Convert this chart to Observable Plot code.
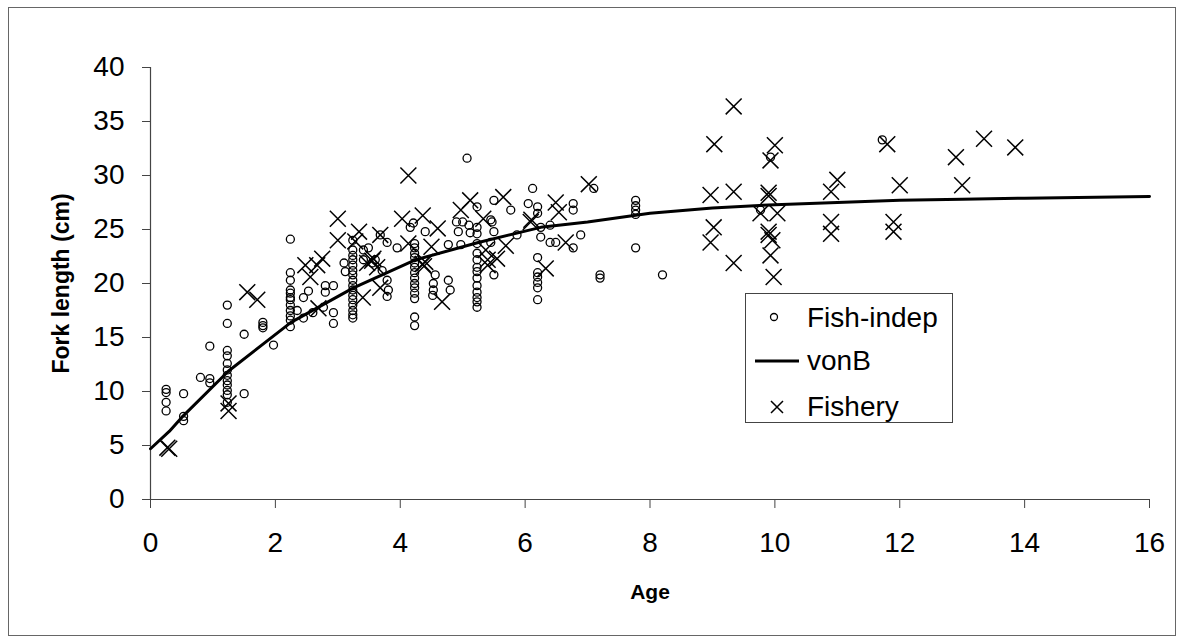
<!DOCTYPE html>
<html>
<head>
<meta charset="utf-8">
<script src="https://cdn.jsdelivr.net/npm/d3@7"></script>
<script src="https://cdn.jsdelivr.net/npm/@observablehq/plot@0.6"></script>
<style>
  html, body { margin: 0; padding: 0; background: #fff; }
  #wrap { position: relative; width: 1184px; height: 641px; font-family: "Liberation Sans", Arial, sans-serif; }
  #border { position: absolute; left: 8px; top: 7px; width: 1166px; height: 627px; border: 1px solid #666; }
  #legend { position: absolute; left: 745px; top: 293px; }
</style>
</head>
<body>
<div id="wrap"><div id="border"></div><div id="chart"></div><div id="legend"></div></div>
<script>
// ---- data ----
const indepAge = [
  0.25,0.25,0.25,0.25,
  0.53,0.53,0.53,
  0.8,
  0.95,0.95,0.95,
  1.23,1.23,1.23,1.23,1.23,1.23,1.23,1.23,1.23,1.23,1.23,1.23,
  1.5,1.5,
  1.8,1.8,1.8,
  1.97,
  2.24,2.24,2.24,2.24,2.24,2.24,2.24,2.24,2.24,2.24,2.24,2.24,
  2.35,2.45,2.45,2.53,2.6,2.77,2.8,2.8,2.93,2.93,2.93,
  3.1,3.12,
  3.24,3.24,3.24,3.24,3.24,3.24,3.24,3.24,3.24,3.24,3.24,3.24,3.24,3.24,3.24,3.24,
  3.41,3.41,3.49,3.55,3.6,3.68,3.71,3.79,3.79,3.79,3.81,3.95,
  4.16,4.21,
  4.23,4.23,4.23,4.23,4.23,4.23,4.23,4.23,4.23,4.23,4.23,4.23,4.23,4.23,
  4.4,4.52,4.53,4.53,4.56,4.77,4.77,4.8,4.9,4.93,4.97,5.0,5.07,5.1,5.12,
  5.23,5.23,5.23,5.23,5.23,5.23,5.23,5.23,5.23,5.23,5.23,5.23,5.23,5.23,
  5.45,5.45,5.47,5.5,5.5,5.5,5.77,5.87,
  6.05,6.12,
  6.2,6.2,6.2,6.2,6.2,6.2,6.2,6.2,
  6.25,6.25,6.4,6.4,6.49,6.77,6.77,6.77,6.89,7.1,7.2,7.2,
  7.77,7.77,7.77,7.77,7.77,8.2,9.77,9.93,11.72
];
const indepLen = [
  10.2,9.9,9.0,8.2,
  9.8,7.7,7.3,
  11.3,
  14.2,11.2,10.8,
  18.0,16.3,13.8,13.3,12.6,12.0,11.5,11.0,10.6,10.1,9.7,9.0,
  15.3,9.8,
  16.4,16.1,15.9,
  14.3,
  24.1,21.0,20.3,19.4,19.1,18.7,18.5,18.0,17.5,17.0,16.6,16.0,
  17.5,18.7,16.8,19.3,17.3,17.8,19.8,19.2,19.8,17.3,16.3,
  21.9,21.1,
  24.0,23.1,22.6,22.2,21.7,21.2,20.8,20.3,19.8,19.4,18.9,18.5,18.0,17.5,17.1,16.8,
  23.1,22.2,23.3,21.9,22.2,24.5,21.2,23.8,20.3,18.8,19.4,23.3,
  25.2,25.6,
  23.7,23.3,22.8,22.4,21.9,21.5,21.0,20.5,20.0,19.6,19.1,18.6,16.9,16.1,
  24.8,18.9,19.4,20.0,20.8,20.3,23.6,19.4,25.7,24.8,23.6,25.7,31.6,25.4,24.7,
  27.1,25.2,24.6,23.7,22.8,22.2,21.5,21.1,20.5,19.8,19.2,18.7,18.3,17.8,
  25.9,23.8,25.7,24.8,20.8,27.7,26.8,24.5,
  27.4,28.8,
  27.1,26.5,22.4,21.0,20.6,20.1,19.6,18.5,
  24.3,25.2,23.8,25.4,23.8,27.4,26.8,23.3,24.5,28.8,20.8,20.5,
  27.7,27.2,26.8,26.4,23.3,20.8,26.8,31.7,33.3
];
const fisheryAge = [
  0.27,0.3,1.25,1.25,1.55,1.71,
  2.48,2.56,2.67,2.69,2.75,3.0,3.0,
  3.28,3.34,3.4,3.47,3.55,3.57,3.63,3.68,3.68,
  4.03,4.13,4.13,4.36,4.36,4.38,4.4,4.5,4.6,4.67,
  4.97,5.12,5.33,5.37,5.4,5.4,5.55,5.65,5.69,
  6.09,6.1,6.33,6.49,6.54,6.65,7.02,
  8.97,8.97,9.02,9.03,9.34,9.34,9.34,9.77,
  9.9,9.9,9.9,9.9,9.93,9.93,9.96,9.98,10.0,10.04,
  10.9,10.9,10.9,11.0,11.8,11.9,11.9,12.0,12.9,13.0,13.35,13.85
];
const fisheryLen = [
  4.8,4.7,8.9,8.2,19.2,18.5,
  21.7,20.6,21.7,17.7,22.3,26.0,24.0,
  23.9,24.8,18.7,21.9,22.1,22.3,21.5,24.5,19.6,
  26.0,30.0,23.7,26.3,21.8,21.6,22.0,23.4,25.1,18.3,
  26.8,27.7,26.0,23.1,21.7,22.2,22.3,28.0,23.5,
  25.7,25.9,21.4,27.5,26.6,23.8,29.2,
  28.2,23.8,25.2,32.9,36.4,28.5,21.9,26.5,
  28.4,28.1,24.8,24.5,31.4,22.6,24.0,20.6,32.8,26.5,
  28.5,25.7,24.6,29.6,32.9,25.7,24.8,29.1,31.7,29.1,33.4,32.6
];
const vonAge = [0, 0.3, 0.5, 1.25, 2.25, 3.25, 4.25, 5.25, 6.25, 7, 8, 9, 10, 11, 12, 13, 14, 16];
const vonLen = [4.7, 6.3, 7.6, 11.9, 16.4, 19.6, 22.2, 23.8, 25.2, 25.7, 26.5, 27.0, 27.3, 27.5, 27.7, 27.8, 27.9, 28.05];
const xTicks = [0, 2, 4, 6, 8, 10, 12, 14, 16];
const yTicks = [0, 5, 10, 15, 20, 25, 30, 35, 40];
const xTitle = "Age";
const yTitle = "Fork length (cm)";
const legendLabels = ["Fish-indep", "vonB", "Fishery"];

const indep = indepAge.map((a, i) => ({age: a, len: indepLen[i]}));
const fishery = fisheryAge.map((a, i) => ({age: a, len: fisheryLen[i]}));
const von = vonAge.map((a, i) => ({age: a, len: vonLen[i]}));

const axisColor = "#444";
const chart = Plot.plot({
  width: 1184, height: 641,
  marginLeft: 150, marginRight: 35, marginTop: 67, marginBottom: 142,
  style: {fontFamily: '"Liberation Sans", Arial, sans-serif', background: "transparent", color: "#000"},
  x: {domain: [0, 16]},
  y: {domain: [0, 40]},
  marks: [
    Plot.axisX({ticks: xTicks, tickSize: 9, tickPadding: 24, fontSize: 28, label: null, stroke: axisColor}),
    Plot.axisY({ticks: yTicks, tickSize: 8, tickPadding: 18, fontSize: 28, label: null, stroke: axisColor}),
    Plot.ruleX([0], {y1: 0, y2: 40, stroke: axisColor, strokeWidth: 1.2}),
    Plot.ruleY([0], {x1: 0, x2: 16, stroke: axisColor, strokeWidth: 1.2}),
    Plot.dot(indep, {x: "age", y: "len", r: 4, fill: "none", stroke: "#000", strokeWidth: 1.3}),
    Plot.line(von, {x: "age", y: "len", stroke: "#000", strokeWidth: 3}),
    Plot.dot(fishery, {x: "age", y: "len", symbol: "times", r: 7.3, stroke: "#000", strokeWidth: 1.5}),
    Plot.text([yTitle], {text: d => d, frameAnchor: "left", textAnchor: "middle", lineAnchor: "middle", dx: -89, rotate: -90, fontWeight: "bold", fontSize: 23, fill: "#000"}),
    Plot.text([xTitle], {text: d => d, frameAnchor: "bottom", textAnchor: "middle", lineAnchor: "middle", dy: 93, fontWeight: "bold", fontSize: 21, fill: "#000"})
  ]
});
document.getElementById("chart").appendChild(chart);

// legend
const lg = d3.select("#legend").append("svg").attr("width", 210).attr("height", 131)
  .style("font-family", '"Liberation Sans", Arial, sans-serif');
lg.append("rect").attr("x", 0.5).attr("y", 0.5).attr("width", 207).attr("height", 129)
  .attr("fill", "#fff").attr("stroke", axisColor);
lg.append("circle").attr("cx", 29).attr("cy", 24).attr("r", 3.5).attr("fill", "none").attr("stroke", "#000").attr("stroke-width", 1.3);
lg.append("line").attr("x1", 10).attr("x2", 54).attr("y1", 68).attr("y2", 68).attr("stroke", "#000").attr("stroke-width", 3);
lg.append("path").attr("d", "M26,108L38,120M26,120L38,108").attr("stroke", "#000").attr("stroke-width", 1.5);
const ys = [24, 67, 113];
legendLabels.forEach((t, i) => {
  lg.append("text").attr("x", 62).attr("y", ys[i]).attr("dy", "0.35em").attr("font-size", 28).text(t);
});
</script>
</body>
</html>
